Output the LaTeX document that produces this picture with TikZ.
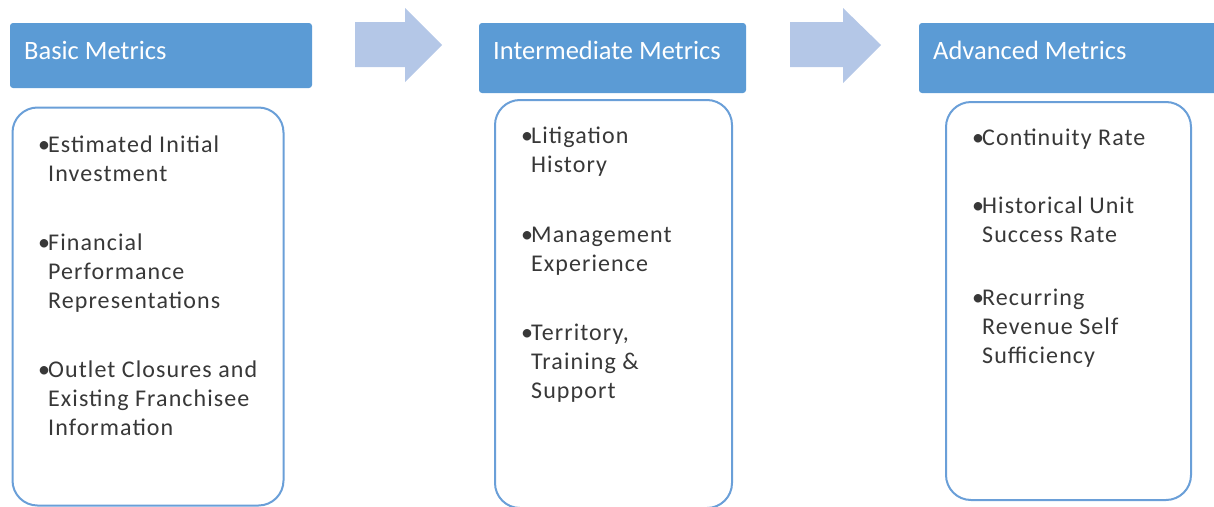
\documentclass[tikz,border=0pt]{standalone}
\usepackage{fontspec}
\setmainfont{Carlito}
\newfontfamily\bodyfont[LetterSpace=4.5]{Carlito}
\definecolor{hdr}{HTML}{5B9BD5}
\definecolor{arr}{HTML}{B4C7E7}
\definecolor{bord}{HTML}{6A9FD8}
\definecolor{txt}{HTML}{383838}
\newcommand{\mybl}{\makebox[10pt][l]{•}}
\newcommand{\myind}{\hspace*{10pt}}
\begin{document}
\begin{tikzpicture}[x=1pt,y=-1pt,
  hdrbox/.style={fill=hdr, rounded corners=3pt, inner sep=0pt, draw=none},
  hdrtxt/.style={text=white, font=\fontsize{26.5}{30}\selectfont, inner sep=0pt, anchor=base west},
  cbox/.style={draw=bord, line width=2pt, rounded corners=25pt, fill=white, inner sep=0pt},
  itemtxt/.style={text=txt, font=\bodyfont\fontsize{24}{29}\selectfont, inner sep=0pt, anchor=base west},
  blockarrow/.style={fill=arr, draw=none}]
\useasboundingbox (0,0) rectangle (1214,506);
\clip (0,0) rectangle (1214,506);
% headers
\node[hdrbox, minimum width=302pt, minimum height=65pt] (h1) at (161,55.5) {};
\node[hdrbox, minimum width=267pt, minimum height=70pt] (h2) at (612.5,58) {};
\node[hdrbox, minimum width=320pt, minimum height=70pt] (h3) at (1079,58) {};
\node[hdrtxt] (t1) at (24,59) {Basic Metrics};
\node[hdrtxt] (t2) at (493,59) {Intermediate Metrics};
\node[hdrtxt] (t3) at (933,59) {Advanced Metrics};
% block arrows
\fill[blockarrow] (355,22) -- (405,22) -- (405,8) -- (442,45) -- (405,82) -- (405,67) -- (355,67) -- cycle;
\fill[blockarrow] (790,22) -- (843,22) -- (843,8) -- (881,45) -- (843,83) -- (843,67) -- (790,67) -- cycle;
% content boxes
\node[cbox, minimum width=271pt, minimum height=398pt] (c1) at (148,306.5) {};
\node[cbox, minimum width=237pt, minimum height=408pt] (c2) at (613.5,304) {};
\node[cbox, minimum width=245pt, minimum height=398pt] (c3) at (1068.5,301) {};
% items box 1
\node[itemtxt] (a1) at (38,152) {\vtop{\baselineskip=29pt\hbox{\mybl Estimated Initial}\hbox{\myind Investment}}};
\node[itemtxt] (a2) at (38,250) {\vtop{\baselineskip=29pt\hbox{\mybl Financial}\hbox{\myind Performance}\hbox{\myind Representations}}};
\node[itemtxt] (a3) at (38,377) {\vtop{\baselineskip=29pt\hbox{\mybl Outlet Closures and}\hbox{\myind Existing Franchisee}\hbox{\myind Information}}};
% items box 2
\node[itemtxt] (b1) at (521,143) {\vtop{\baselineskip=29pt\hbox{\mybl Litigation}\hbox{\myind History}}};
\node[itemtxt] (b2) at (521,242) {\vtop{\baselineskip=29pt\hbox{\mybl Management}\hbox{\myind Experience}}};
\node[itemtxt] (b3) at (521,340) {\vtop{\baselineskip=29pt\hbox{\mybl Territory,}\hbox{\myind Training \&}\hbox{\myind Support}}};
% items box 3
\node[itemtxt] (d1) at (972,145) {\vtop{\baselineskip=29pt\hbox{\mybl Continuity Rate}}};
\node[itemtxt] (d2) at (972,213) {\vtop{\baselineskip=29pt\hbox{\mybl Historical Unit}\hbox{\myind Success Rate}}};
\node[itemtxt] (d3) at (972,305) {\vtop{\baselineskip=29pt\hbox{\mybl Recurring}\hbox{\myind Revenue Self}\hbox{\myind Sufficiency}}};
\end{tikzpicture}
\end{document}
